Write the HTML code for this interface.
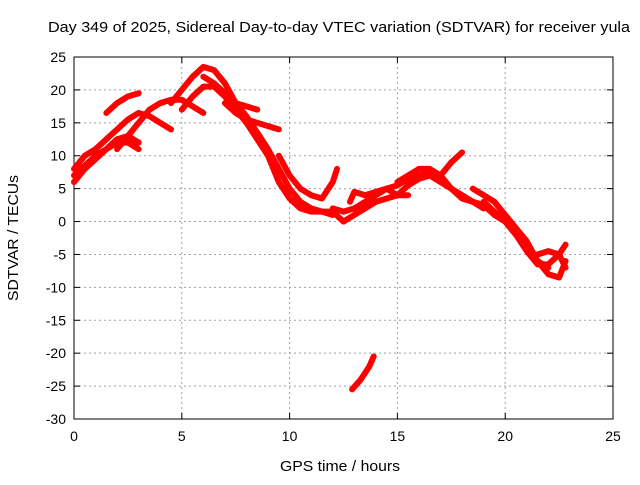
<!DOCTYPE html>
<html><head><meta charset="utf-8"><style>
body{margin:0;background:#fff}
svg text{font-family:"Liberation Sans",sans-serif;font-size:14px;fill:#000}
</style></head><body>
<svg width="640" height="480">
<rect width="640" height="480" fill="#fff"/>
<text x="339" y="32" text-anchor="middle" textLength="582" lengthAdjust="spacingAndGlyphs" style="font-size:15px">Day 349 of 2025, Sidereal Day-to-day VTEC variation (SDTVAR) for receiver yula</text>
<g id="grid"></g><g id="axes"></g><g id="data"></g>
<text x="340" y="471" text-anchor="middle" textLength="120" lengthAdjust="spacingAndGlyphs" style="font-size:15px">GPS time / hours</text>
<text transform="translate(18,238) rotate(-90)" text-anchor="middle" textLength="126" lengthAdjust="spacingAndGlyphs" style="font-size:15px">SDTVAR / TECUs</text>
</svg>
<script>
const xTicks=[0,5,10,15,20,25];
const yTicks=[25,20,15,10,5,0,-5,-10,-15,-20,-25,-30];
const tracks=[
[[0,7],[0.5,8.5],[1,10],[1.5,11],[2,12],[2.5,12],[3,11]],
[[0,6],[0.5,8],[1,9.5],[1.5,11],[2,12.5],[2.5,13],[3,12]],
[[0,8],[0.5,10],[1,11],[1.5,12.5],[2,14],[2.5,15.5],[3,16.5],[3.5,16],[4,15],[4.5,14]],
[[1.5,16.5],[2,18],[2.5,19],[3,19.5]],
[[2,11],[2.5,13],[3,15],[3.5,17],[4,18],[4.5,18.5],[5,18.5],[5.5,17.5],[6,16.5]],
[[4.5,18],[5,20],[5.5,22],[6,23.5],[6.5,23],[7,21],[7.5,18],[8,16],[8.5,13.5],[9,11],[9.5,8],[10,5],[10.5,3],[11,2],[11.5,1.5],[12,1]],
[[5,17],[5.5,19],[6,20.5],[6.5,20.5],[7,19],[7.5,17],[8,15],[8.5,12.5],[9,10],[9.5,6],[10,3.5],[10.5,2],[11,1.5],[12,1.5],[12.5,0]],
[[6,22],[6.5,21],[7,19.5],[7.5,18],[8,17.5],[8.5,17]],
[[7,18],[7.5,16.5],[8,15.5],[8.5,15],[9,14.5],[9.5,14]],
[[9.5,10],[10,7],[10.5,5],[11,4],[11.5,3.5],[12,6],[12.2,8]],
[[12,2],[12.5,1.5],[13,2],[13.5,3],[14,4],[14.5,5],[15,5.5],[15.5,6.5],[16,7],[16.5,7.5],[17,7],[17.5,9],[18,10.5]],
[[12.5,0],[13,1],[13.5,2],[14,3],[14.5,3.5],[15,4],[15.5,5.5],[16,6.5],[16.5,7],[17,6],[17.5,5],[18,4],[18.5,3],[19,2]],
[[12.8,3],[13,4.5],[13.5,4],[14,4.5],[14.5,5],[15,4],[15.5,4]],
[[15,6],[15.5,7],[16,8],[16.5,8],[17,7],[17.5,5],[18,3.5],[18.5,3],[19,2.5],[19.5,1],[20,0],[20.5,-2],[21,-4],[21.5,-6],[22,-7]],
[[18.5,5],[19,4],[19.5,3],[20,1],[20.5,-1],[21,-3],[21.5,-6],[22,-8],[22.5,-8.5],[22.8,-6]],
[[19,3],[19.5,1.5],[20,0],[20.5,-2],[21,-4.5],[21.5,-6.5],[22,-6.5],[22.5,-5],[22.8,-3.5]],
[[21.5,-5],[22,-4.5],[22.5,-5],[22.8,-7]],
[[12.9,-25.5],[13.3,-24],[13.7,-22],[13.9,-20.5]]
];
const X0=74,X1=613,Y0=57,Y1=419;
const sx=v=>X0+(v-0)/25*(X1-X0);
const sy=v=>Y0+(25-v)/55*(Y1-Y0);
const NS='http://www.w3.org/2000/svg';
function mk(t,a,p){const e=document.createElementNS(NS,t);for(const k in a)e.setAttribute(k,a[k]);p.appendChild(e);return e;}
const g=document.getElementById('grid'),ax=document.getElementById('axes'),d=document.getElementById('data');
xTicks.forEach(v=>{
 if(v>0&&v<25){const l=mk('line',{x1:sx(v),x2:sx(v),y1:Y0,y2:Y1,stroke:'#a0a0a0','stroke-dasharray':'2,3'},g);
 
 }
 mk('line',{x1:sx(v),x2:sx(v),y1:Y1,y2:Y1-6,stroke:'#000'},ax);
 mk('line',{x1:sx(v),x2:sx(v),y1:Y0,y2:Y0+6,stroke:'#000'},ax);
 const t=mk('text',{x:sx(v),y:Y1+22,'text-anchor':'middle'},ax);t.textContent=v;
 
 
});
yTicks.forEach(v=>{
 if(v<25&&v>-30){const l=mk('line',{x1:X0,x2:X1,y1:sy(v),y2:sy(v),stroke:'#a0a0a0','stroke-dasharray':'2,3'},g);
 
 }
 mk('line',{x1:X0,x2:X0+6,y1:sy(v),y2:sy(v),stroke:'#000'},ax);
 mk('line',{x1:X1,x2:X1-6,y1:sy(v),y2:sy(v),stroke:'#000'},ax);
 const t=mk('text',{x:X0-8,y:sy(v)+5,'text-anchor':'end'},ax);t.textContent=v;
 
 
});
const b=mk('rect',{x:X0,y:Y0,width:X1-X0,height:Y1-Y0,fill:'none',stroke:'#000'},ax);


tracks.forEach(tr=>{
 const p=mk('polyline',{points:tr.map(q=>sx(q[0])+','+sy(q[1])).join(' '),fill:'none',stroke:'#f00','stroke-width':6,'stroke-linejoin':'round','stroke-linecap':'round'},d);
 
 
});
</script>
</body></html>
